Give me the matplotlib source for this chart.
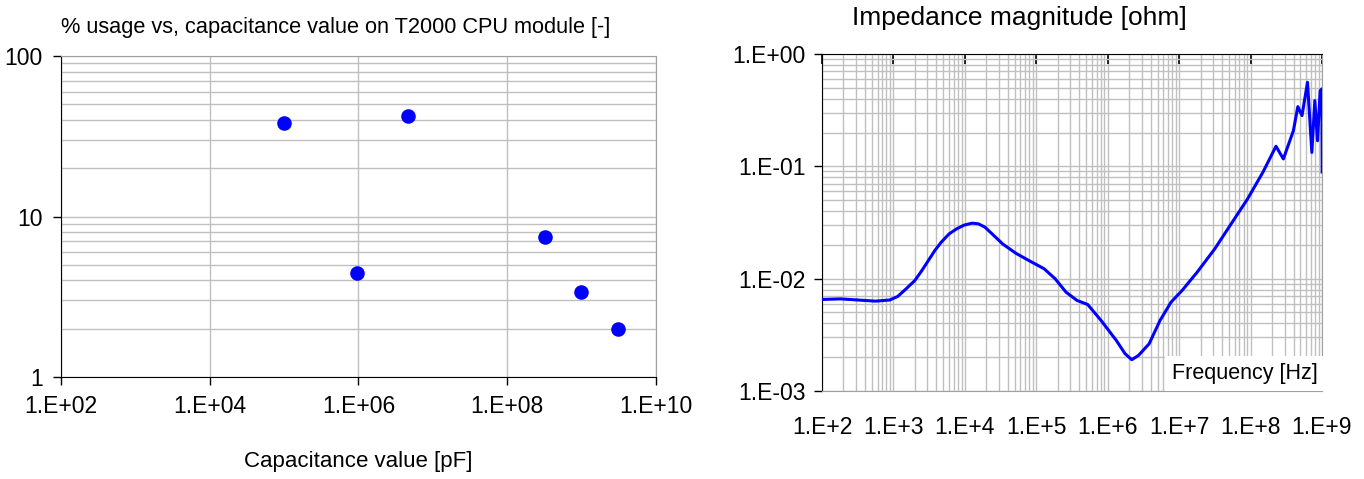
import matplotlib
matplotlib.use('Agg')
import matplotlib.pyplot as plt
from matplotlib.ticker import FixedLocator, FuncFormatter, NullLocator, LogLocator

plt.rcParams['font.family'] = ['Liberation Sans', 'DejaVu Sans']

# left chart: % usage vs capacitance value
cap_pf = [1.0e5, 9.7e5, 4.6e6, 3.2e8, 9.8e8, 3.1e9]
usage_pct = [38.4, 4.42, 42.4, 7.43, 3.40, 2.0]
cap_ticks = [1e2, 1e4, 1e6, 1e8, 1e10]
cap_tick_labels = ['1.E+02', '1.E+04', '1.E+06', '1.E+08', '1.E+10']

# right chart: impedance magnitude vs frequency
freq_hz = [100, 182, 316, 562, 891, 1150, 1510, 2000, 2500, 3090, 3800, 4680,
           6000, 7690, 9800, 12600, 15500, 19200, 25000, 33800, 51600, 78700,
           129000, 184000, 261000, 372000, 525000, 807000, 1.32e6, 1.75e6,
           2.17e6, 2.69e6, 3.80e6, 5.41e6, 7.71e6, 1.10e7, 1.79e7, 3.16e7,
           5.16e7, 9.08e7, 1.49e8, 2.27e8, 2.88e8, 3.98e8, 4.59e8, 5.25e8,
           6.27e8, 7.21e8, 7.94e8, 8.65e8, 9.42e8, 9.95e8, 1.007e9]
imp_ohm = [6.53e-3, 6.61e-3, 6.46e-3, 6.31e-3, 6.46e-3, 6.95e-3, 8.13e-3,
           9.64e-3, 0.0118, 0.01452, 0.0178, 0.02113, 0.0250, 0.0278, 0.0300,
           0.0312, 0.0308, 0.0287, 0.0245, 0.0204, 0.01687, 0.01452, 0.01225,
           9.98e-3, 7.59e-3, 6.40e-3, 5.89e-3, 4.25e-3, 2.82e-3, 2.15e-3,
           1.90e-3, 2.07e-3, 2.63e-3, 4.25e-3, 6.18e-3, 7.85e-3, 0.01143,
           0.01845, 0.0297, 0.0513, 0.0887, 0.151, 0.1164, 0.208, 0.340, 0.283,
           0.560, 0.133, 0.385, 0.169, 0.472, 0.489, 0.089]
freq_ticks = [1e2, 1e3, 1e4, 1e5, 1e6, 1e7, 1e8, 1e9]
freq_tick_labels = ['1.E+2', '1.E+3', '1.E+4', '1.E+5', '1.E+6', '1.E+7', '1.E+8', '1.E+9']
imp_ticks = [1e-3, 1e-2, 1e-1, 1e0]
imp_tick_labels = ['1.E-03', '1.E-02', '1.E-01', '1.E+00']

grid_col = '#c0c0c0'
edge_col = '#a0a0a0'

fig = plt.figure(figsize=(13.64, 4.79), dpi=100)

# ---- left
ax1 = fig.add_axes([0.0447, 0.2129, 0.4362, 0.670])
ax1.set_xscale('log')
ax1.set_yscale('log')
ax1.set_xlim(1e2, 1e10)
ax1.set_ylim(1, 100)
ax1.scatter(cap_pf, usage_pct, s=110, color='#0000ff', zorder=3, linewidths=0)
ax1.xaxis.set_major_locator(FixedLocator(cap_ticks))
ax1.xaxis.set_minor_locator(NullLocator())
ax1.set_xticklabels(cap_tick_labels)
ax1.yaxis.set_major_locator(FixedLocator([1, 10, 100]))
ax1.yaxis.set_major_formatter(FuncFormatter(lambda v, p: '%d' % v))
ax1.yaxis.set_minor_locator(LogLocator(base=10, subs=range(2, 10)))
ax1.yaxis.set_minor_formatter(FuncFormatter(lambda v, p: ''))
ax1.grid(True, which='major', axis='both', color=grid_col, lw=1)
ax1.grid(True, which='minor', axis='y', color=grid_col, lw=1)
ax1.set_axisbelow(True)
ax1.tick_params(which='major', direction='out', length=6, width=1, labelsize=16.5, pad=7)
ax1.tick_params(which='minor', length=0)
for s in ['top', 'right']:
    ax1.spines[s].set_color(edge_col)
ax1.set_xlabel('Capacitance value [pF]', fontsize=16, labelpad=24)
fig.text(0.246, 0.942, '% usage vs, capacitance value on T2000 CPU module [-]',
         fontsize=15.7, ha='center', va='center')

# ---- right
ax2 = fig.add_axes([0.6026, 0.1837, 0.3666, 0.7035])
ax2.set_xscale('log')
ax2.set_yscale('log')
ax2.set_xlim(1e2, 1e9)
ax2.set_ylim(1e-3, 1)
ax2.plot(freq_hz, imp_ohm, color='#0000ff', lw=2.2, zorder=3)
ax2.xaxis.set_major_locator(FixedLocator(freq_ticks))
ax2.xaxis.set_minor_locator(LogLocator(base=10, subs=range(2, 10), numticks=20))
ax2.xaxis.set_minor_formatter(FuncFormatter(lambda v, p: ''))
ax2.set_xticklabels(freq_tick_labels)
ax2.yaxis.set_major_locator(FixedLocator(imp_ticks))
ax2.set_yticklabels(imp_tick_labels)
ax2.yaxis.set_minor_locator(LogLocator(base=10, subs=range(2, 10), numticks=20))
ax2.yaxis.set_minor_formatter(FuncFormatter(lambda v, p: ''))
ax2.grid(True, which='both', color=grid_col, lw=1)
ax2.set_axisbelow(True)
ax2.tick_params(axis='x', which='major', top=True, bottom=False, direction='in',
                length=7, width=1.2, labelsize=16.5, pad=18)
ax2.tick_params(axis='y', which='major', direction='out', length=6, width=1,
                labelsize=16.5, pad=6)
ax2.tick_params(which='minor', length=0)
for s in ['bottom', 'right']:
    ax2.spines[s].set_color(edge_col)
ax2.text(0.992, 0.02, 'Frequency [Hz]', transform=ax2.transAxes, ha='right',
         va='bottom', fontsize=15.5, zorder=4,
         bbox=dict(facecolor='white', edgecolor='none', pad=5))
fig.text(0.747, 0.962, 'Impedance magnitude [ohm]', fontsize=19,
         ha='center', va='center')

fig.savefig('out.png', dpi=100)
